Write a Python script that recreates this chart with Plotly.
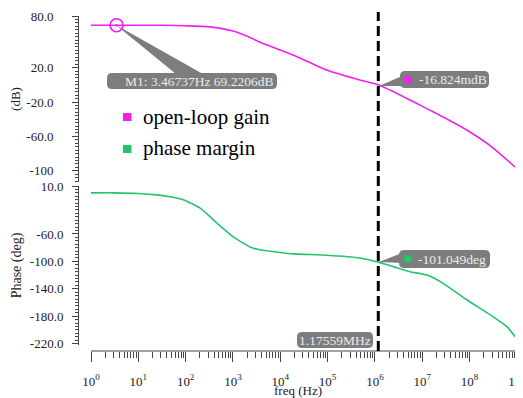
import plotly.graph_objects as go

# ---------------- data ----------------
freq_gain = [1.0, 3.46737, 31.6, 100.0, 316.0, 1000.0, 2000.0, 3720.0, 18600.0,
             95500.0, 479000.0, 1175590.0, 5500000.0, 27500000.0, 87100000.0,
             316000000.0, 912000000.0]
gain_db = [69.2206, 69.2206, 69.2, 68.6, 67.3, 62.5, 56.5, 49.5, 34.7,
           17.2, 5.6, -0.016824, -17.7, -37.4, -52.6, -73.5, -95.6]

freq_phase = [1.0, 3.16, 10.0, 24.5, 50.0, 89.0, 200.0, 457.0, 1000.0, 2290.0,
              3720.0, 10000.0, 18600.0, 95500.0, 479000.0, 1175590.0, 2510000.0,
              5500000.0, 12600000.0, 27500000.0, 87100000.0, 316000000.0,
              631000000.0, 912000000.0]
phase_deg = [0.0, 0.0, -1.0, -3.0, -6.0, -10.0, -22.0, -44.0, -64.0, -79.0,
             -83.0, -87.0, -89.0, -91.0, -95.0, -101.049, -108.0,
             -115.0, -120.0, -132.0, -156.0, -181.0, -196.0, -210.0]

M1_FREQ = 3.46737
M1_GAIN = 69.2206
CROSS_FREQ = 1.17559e6
CROSS_GAIN_TXT = "-16.824mdB"
CROSS_PHASE_TXT = "-101.049deg"
M1_TXT = "M1: 3.46737Hz 69.2206dB"
CROSS_FREQ_TXT = "1.17559MHz"

gain_ticks = [80, 20, -20, -60, -100]
gain_ticktext = ["80.0", "20.0", "-20.0", "-60.0", "-100"]
phase_ticks = [10, -60, -100, -140, -180, -220]
phase_ticktext = ["10.0", "-60.0", "-100.0", "-140.0", "-180.0", "-220.0"]
x_ticks = [10 ** k for k in range(10)]
x_ticktext = ["10<sup>%d</sup>" % k for k in range(10)]
x_minor = [m * 10 ** k for k in range(9) for m in range(2, 10)]

legend_names = ["open-loop gain", "phase margin"]

MAGENTA = "#f020f0"
GREEN = "#22c46e"
GRAY = "#7d7d7d"
BOXTXT = "#ececec"
FONT = "Liberation Serif"

# --------------- pixel helpers for decorations ---------------
# page body has an 8px margin: the figure is shrunk and offset accordingly
OFF = 8
PW, PH = 523, 398
L, R, T, B = 79, 517, 10, 351          # plot area in page pixels
W, H = PW - OFF, PH - OFF


def px(x):
    return (x - L) / (R - L)


def py(y):
    return (B - y) / (B - T)


def rrect(x0, y0, x1, y1, r=5):
    pts = [
        ("M", [(x0 + r, y0)]), ("L", [(x1 - r, y0)]), ("Q", [(x1, y0), (x1, y0 + r)]),
        ("L", [(x1, y1 - r)]), ("Q", [(x1, y1), (x1 - r, y1)]), ("L", [(x0 + r, y1)]),
        ("Q", [(x0, y1), (x0, y1 - r)]), ("L", [(x0, y0 + r)]), ("Q", [(x0, y0), (x0 + r, y0)]),
    ]
    s = ""
    for cmd, ps in pts:
        s += cmd + " " + " ".join("%.5f,%.5f" % (px(a), py(b)) for a, b in ps) + " "
    return s + "Z"


def tri(p):
    return "M " + " L ".join("%.5f,%.5f" % (px(a), py(b)) for a, b in p) + " Z"


fig = go.Figure()
fig.add_trace(go.Scatter(x=freq_gain, y=gain_db, mode="lines", name=legend_names[0],
                         line=dict(color=MAGENTA, width=1.6, shape="spline", smoothing=0.5),
                         xaxis="x", yaxis="y", showlegend=False))
fig.add_trace(go.Scatter(x=freq_phase, y=phase_deg, mode="lines", name=legend_names[1],
                         line=dict(color=GREEN, width=1.6, shape="spline", smoothing=0.5),
                         xaxis="x", yaxis="y2", showlegend=False))
fig.add_trace(go.Scatter(x=[M1_FREQ], y=[M1_GAIN], mode="markers",
                         marker=dict(symbol="circle-open-dot", size=13, color=MAGENTA,
                                     line=dict(width=1.6, color=MAGENTA)),
                         xaxis="x", yaxis="y", showlegend=False))

shapes = []
# x axis line (from 10^0 to 10^9)
shapes.append(dict(type="line", xref="x", yref="paper", x0=1, x1=1e9, y0=0, y1=0,
                   line=dict(color="#444", width=1)))
# dashed marker line
shapes.append(dict(type="line", xref="x", yref="paper", x0=CROSS_FREQ, x1=CROSS_FREQ,
                   y0=0, y1=py(12), line=dict(color="black", width=3, dash="10px,5px")))
# M1 callout wedge
shapes.append(dict(type="path", xref="paper", yref="paper", layer="below",
                   path=tri([(116, 25), (176, 74), (203, 74)]), fillcolor=GRAY,
                   line=dict(width=0)))
# label boxes
boxes = [(107, 73, 277, 89), (400, 71, 489, 88), (399, 250, 490, 268), (297, 332, 373, 348)]
for b in boxes:
    shapes.append(dict(type="path", xref="paper", yref="paper", path=rrect(*b, r=5),
                       fillcolor=GRAY, line=dict(width=0)))
shapes.append(dict(type="path", xref="paper", yref="paper",
                   path=tri([(379, 86), (402, 76), (402, 86)]), fillcolor=GRAY, line=dict(width=0)))
shapes.append(dict(type="path", xref="paper", yref="paper",
                   path=tri([(379, 262), (402, 253), (402, 263)]), fillcolor=GRAY, line=dict(width=0)))
# dots in boxes
for (cx, cy, col) in [(408, 79.5, MAGENTA), (408, 259, GREEN)]:
    shapes.append(dict(type="circle", xref="paper", yref="paper",
                       x0=px(cx - 4), x1=px(cx + 4), y0=py(cy + 4), y1=py(cy - 4),
                       fillcolor=col, line=dict(width=0)))
# legend squares
for (cy, col) in [(117, MAGENTA), (149, GREEN)]:
    shapes.append(dict(type="rect", xref="paper", yref="paper",
                       x0=px(123), x1=px(131.5), y0=py(cy + 4), y1=py(cy - 4),
                       fillcolor=col, line=dict(width=0)))

annotations = []
for (cx, cy, txt) in [(199, 81, M1_TXT), (453, 79.5, CROSS_GAIN_TXT),
                      (452, 259, CROSS_PHASE_TXT), (335, 340, CROSS_FREQ_TXT)]:
    annotations.append(dict(x=px(cx), y=py(cy), xref="paper", yref="paper", text=txt,
                            showarrow=False, xanchor="center", yanchor="middle",
                            font=dict(family=FONT, size=13.5, color=BOXTXT)))
for (cy, txt) in [(117, legend_names[0]), (148, legend_names[1])]:
    annotations.append(dict(x=px(141), y=py(cy), xref="paper", yref="paper", text=txt,
                            showarrow=False, xanchor="left", yanchor="middle",
                            font=dict(family=FONT, size=21, color="black")))

fig.update_layout(
    width=W, height=H, autosize=False,
    margin=dict(l=L - OFF, r=PW - R, t=T - OFF, b=PH - B, autoexpand=False),
    plot_bgcolor="white", paper_bgcolor="white",
    font=dict(family=FONT, size=13, color="#222"),
    shapes=shapes, annotations=annotations,
    xaxis=dict(type="log", range=[-0.2535, 9.001], anchor="free", position=0,
               automargin=False, ticklabeloverflow="allow",
               showline=False, showgrid=False, zeroline=False,
               tickmode="array", tickvals=x_ticks, ticktext=x_ticktext,
               ticks="outside", ticklen=10, tickcolor="#444", tickwidth=1,
               minor=dict(tickmode="array", tickvals=x_minor, ticks="outside",
                          ticklen=6, tickcolor="#444", tickwidth=1, showgrid=False),
               tickfont=dict(family=FONT, size=13, color="#222"), ticklabelstandoff=8,
               title=dict(text="freq (Hz)", font=dict(family=FONT, size=13, color="#222"),
                          standoff=0)),
    yaxis=dict(domain=[py(182), py(16)], range=[-113, 80], anchor="x", automargin=False,
               showline=True, linecolor="#444", linewidth=1, showgrid=False, zeroline=False,
               tickmode="array", tickvals=gain_ticks, ticktext=gain_ticktext,
               ticks="outside", ticklen=6, tickcolor="#444",
               minor=dict(dtick=4, tick0=0, ticks="outside", ticklen=3, tickcolor="#444",
                          showgrid=False),
               tickfont=dict(family=FONT, size=13, color="#222"), ticklabelstandoff=16,
               title=dict(text="(dB)", font=dict(family=FONT, size=13, color="#222"),
                          standoff=8)),
    yaxis2=dict(domain=[py(345), py(186)], range=[-222, 10], anchor="x", automargin=False,
                showline=True, linecolor="#444", linewidth=1, showgrid=False, zeroline=False,
                tickmode="array", tickvals=phase_ticks, ticktext=phase_ticktext,
                ticks="outside", ticklen=6, tickcolor="#444",
                minor=dict(dtick=5, tick0=0, ticks="outside", ticklen=3, tickcolor="#444",
                           showgrid=False),
                tickfont=dict(family=FONT, size=13, color="#222"), ticklabelstandoff=6,
                title=dict(text="Phase (deg)", font=dict(family=FONT, size=14, color="#222"),
                           standoff=4)),
)

fig.write_html("out.html")
